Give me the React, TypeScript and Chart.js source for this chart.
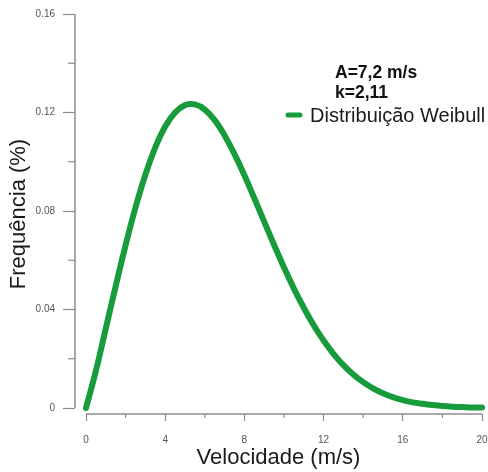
import React, { useEffect, useRef } from 'react';
import { Chart, registerables } from 'chart.js';

Chart.register(...registerables);

// Wind speed (m/s)
const velocity = [
  0, 0.5, 1, 1.5, 2, 2.5, 3, 3.5, 4, 4.5, 5, 5.5, 6, 6.5, 7, 7.5, 8, 8.5, 9, 9.5,
  10, 10.5, 11, 11.5, 12, 12.5, 13, 13.5, 14, 14.5, 15, 15.5, 16, 16.5, 17, 17.5,
  18, 18.5, 19, 19.5, 20,
];
// Frequency values
const frequency = [
  0, 0.0151, 0.0323, 0.0495, 0.0661, 0.0814, 0.0947, 0.1058, 0.1143, 0.12, 0.123,
  0.1233, 0.1212, 0.1169, 0.1107, 0.1031, 0.0945, 0.0852, 0.0757, 0.0662, 0.0571,
  0.0485, 0.0407, 0.0336, 0.0274, 0.022, 0.0174, 0.0136, 0.0105, 0.008, 0.006,
  0.0044, 0.0032, 0.0023, 0.0017, 0.0012, 0.0008, 0.00055, 0.0004, 0.00025, 0.0002,
];

const xMajorTicks = [0, 4, 8, 12, 16, 20];
const xMinorTicks = [2, 6, 10, 14, 18];
const yMajorTicks = [0, 0.04, 0.08, 0.12, 0.16];
const yMinorTicks = [0.02, 0.06, 0.1, 0.14];

const seriesLabel = 'Distribuição Weibull';
const paramLines = ['A=7,2 m/s', 'k=2,11'];
const xTitle = 'Velocidade (m/s)';
const yTitle = 'Frequência (%)';

const FONT = '"Liberation Sans", Arial, Helvetica, sans-serif';
const LINE_COLOR = '#179b3b';
const AXIS_COLOR = '#8c8c8c';
const TICK_TEXT = '#555555';

const axesPlugin = {
  id: 'customAxes',
  beforeDatasetsDraw(chart: any) {
    const { ctx, chartArea, scales } = chart;
    const xs = scales.x;
    const ys = scales.y;
    ctx.save();
    ctx.strokeStyle = AXIS_COLOR;
    ctx.lineWidth = 1.5;
    // y axis line
    const yTop = ys.getPixelForValue(yMajorTicks[yMajorTicks.length - 1]);
    const yBot = ys.getPixelForValue(yMajorTicks[0]);
    ctx.beginPath();
    ctx.moveTo(chartArea.left, yTop);
    ctx.lineTo(chartArea.left, yBot);
    ctx.stroke();
    // x axis line
    const xL = xs.getPixelForValue(xMajorTicks[0]);
    const xR = xs.getPixelForValue(xMajorTicks[xMajorTicks.length - 1]);
    ctx.beginPath();
    ctx.moveTo(xL, chartArea.bottom);
    ctx.lineTo(xR, chartArea.bottom);
    ctx.stroke();
    // minor ticks
    ctx.lineWidth = 1.2;
    for (const v of yMinorTicks) {
      const p = ys.getPixelForValue(v);
      ctx.beginPath();
      ctx.moveTo(chartArea.left - 7, p);
      ctx.lineTo(chartArea.left, p);
      ctx.stroke();
    }
    for (const v of xMinorTicks) {
      const p = xs.getPixelForValue(v);
      ctx.beginPath();
      ctx.moveTo(p, chartArea.bottom);
      ctx.lineTo(p, chartArea.bottom + 4);
      ctx.stroke();
    }
    ctx.restore();
  },
  afterDraw(chart: any) {
    const { ctx, chartArea } = chart;
    ctx.save();
    ctx.textAlign = 'left';
    ctx.textBaseline = 'alphabetic';
    ctx.fillStyle = '#111111';
    ctx.font = `bold 17.5px ${FONT}`;
    const px = chartArea.right - 147;
    ctx.fillText(paramLines[0], px, chartArea.top + 64);
    ctx.fillText(paramLines[1], px, chartArea.top + 84);
    // legend item
    const ly = chartArea.top + 101;
    ctx.strokeStyle = LINE_COLOR;
    ctx.lineWidth = 5;
    ctx.lineCap = 'round';
    ctx.beginPath();
    ctx.moveTo(chartArea.right - 194, ly);
    ctx.lineTo(chartArea.right - 182, ly);
    ctx.stroke();
    ctx.font = `20px ${FONT}`;
    ctx.fillStyle = '#1a1a1a';
    ctx.fillText(seriesLabel, chartArea.right - 172, chartArea.top + 107.5);
    ctx.restore();
  },
};

export default function App() {
  const canvasRef = useRef<HTMLCanvasElement | null>(null);

  useEffect(() => {
    document.body.style.margin = '0';
    const canvas = canvasRef.current;
    if (!canvas) return;
    const chart = new Chart(canvas, {
      type: 'line',
      data: {
        datasets: [
          {
            label: seriesLabel,
            data: velocity.map((x, i) => ({ x, y: frequency[i] })),
            borderColor: LINE_COLOR,
            backgroundColor: LINE_COLOR,
            borderWidth: 6,
            pointRadius: 0,
            pointHoverRadius: 0,
            fill: false,
            tension: 0.4,
            borderCapStyle: 'round',
            borderJoinStyle: 'round',
            clip: false,
          } as any,
        ],
      },
      options: {
        responsive: false,
        animation: false,
        devicePixelRatio: 1,
        layout: { padding: { left: 0, right: 6, top: 14, bottom: 0 }, autoPadding: false } as any,
        plugins: {
          legend: { display: false },
          tooltip: { enabled: false },
        },
        scales: {
          x: {
            type: 'linear',
            min: -0.5556,
            max: 20,
            afterBuildTicks: (s: any) => {
              s.ticks = xMajorTicks.map((v) => ({ value: v }));
            },
            afterFit: (s: any) => {
              s.height = 58;
              s.paddingLeft = 0;
              s.paddingRight = 0;
            },
            border: { display: false },
            grid: {
              display: true,
              drawOnChartArea: false,
              drawTicks: true,
              tickLength: 7,
              tickWidth: 1.2,
              tickColor: AXIS_COLOR,
            },
            ticks: {
              autoSkip: false,
              maxRotation: 0,
              padding: 13,
              color: TICK_TEXT,
              font: { family: FONT, size: 10 },
              callback: (v: any) => String(v),
            },
            title: {
              display: true,
              text: xTitle,
              color: '#1a1a1a',
              font: { family: FONT, size: 22 },
              padding: { top: 0, bottom: 1 },
            },
          },
          y: {
            type: 'linear',
            min: -0.0024365,
            max: 0.16,
            afterBuildTicks: (s: any) => {
              s.ticks = yMajorTicks.map((v) => ({ value: v }));
            },
            afterFit: (s: any) => {
              s.width = 75;
              s.paddingTop = 0;
              s.paddingBottom = 0;
            },
            border: { display: false },
            grid: {
              display: true,
              drawOnChartArea: false,
              drawTicks: true,
              tickLength: 12,
              tickWidth: 1.2,
              tickColor: AXIS_COLOR,
            },
            ticks: {
              autoSkip: false,
              padding: 8,
              color: TICK_TEXT,
              font: { family: FONT, size: 10 },
              callback: (v: any) => (v === 0 ? '0' : Number(v).toFixed(2)),
            },
            title: {
              display: true,
              text: yTitle,
              color: '#1a1a1a',
              font: { family: FONT, size: 22 },
              padding: { top: 6, bottom: 0 },
            },
          },
        },
      },
      plugins: [axesPlugin],
    });
    return () => chart.destroy();
  }, []);

  return (
    <div style={{ width: 488, height: 472 }}>
      <canvas ref={canvasRef} width={488} height={472} style={{ display: 'block', width: 488, height: 472 }} />
    </div>
  );
}
